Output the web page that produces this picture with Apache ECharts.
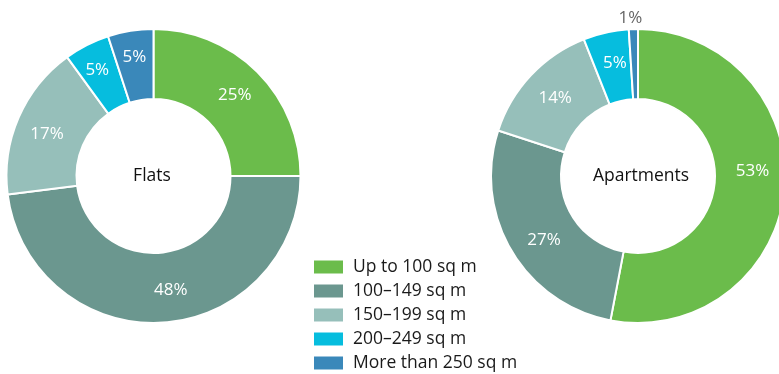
<!DOCTYPE html>
<html>
<head>
<meta charset="utf-8">
<script src="https://cdn.jsdelivr.net/npm/echarts@6/dist/echarts.min.js"></script>
<style>html,body{margin:0;padding:0;background:#fff}#c{width:779px;height:374px}</style>
</head>
<body>
<div id="c"></div>
<script>
const categories = ['Up to 100 sq m', '100–149 sq m', '150–199 sq m', '200–249 sq m', 'More than 250 sq m'];
const flatsValues = [25, 48, 17, 5, 5];
const apartmentsValues = [53, 27, 14, 5, 1];
const colors = ['#6BBC4B', '#6B978F', '#96BFBA', '#06BDDE', '#3A88BA'];
const FONT = '"Open Sans", "Noto Sans", sans-serif';

// label nudges (style only) to mimic the original's label placement
const flatsLabelOffsets = [[0, 0], [10, -1], [-1, 4], [-4, -3], [-1, -5]];
const aptLabelOffsets = [[0, -16], [5, 6], [1, 1], [2, -1], [9, -8]];

function makeData(values, offsets) {
  return categories.map((name, i) => {
    const d = { name, value: values[i], label: { offset: offsets[i] } };
    if (values[i] < 3) {
      d.label = { position: 'outside', color: '#666', distanceToLabelLine: 0, offset: offsets[i] };
      d.labelLine = { show: false, length: 3, length2: 0 };
    }
    return d;
  });
}

function pie(center, values, offsets) {
  return {
    type: 'pie',
    center: center,
    radius: [77, 147],
    startAngle: 90,
    clockwise: true,
    avoidLabelOverlap: false,
    itemStyle: { borderColor: '#fff', borderWidth: 2 },
    label: {
      show: true, position: 'inside', formatter: '{c}%',
      color: '#fff', fontSize: 17, fontFamily: FONT
    },
    labelLine: { show: false },
    emphasis: { disabled: true },
    data: makeData(values, offsets)
  };
}

const chart = echarts.init(document.getElementById('c'), null, { renderer: 'canvas' });
chart.setOption({
  animation: false,
  color: colors,
  title: [
    { text: 'Flats', left: 152, top: 176, textAlign: 'center', textVerticalAlign: 'middle', padding: 0,
      textStyle: { fontSize: 17.5, fontWeight: 'normal', color: '#111', fontFamily: FONT } },
    { text: 'Apartments', left: 641, top: 176, textAlign: 'center', textVerticalAlign: 'middle', padding: 0,
      textStyle: { fontSize: 17.5, fontWeight: 'normal', color: '#111', fontFamily: FONT } }
  ],
  legend: {
    orient: 'vertical', left: 307, top: 253, height: 130, width: 300,
    itemWidth: 31, itemHeight: 15, itemGap: 6,
    icon: 'rect',
    selectedMode: false,
    textStyle: { fontSize: 17.5, color: '#1a1a1a', fontFamily: FONT, lineHeight: 15, padding: [0, 0, 0, 4] },
    data: categories
  },
  series: [pie([153.5, 176], flatsValues, flatsLabelOffsets), pie([638, 176], apartmentsValues, aptLabelOffsets)]
});
</script>
</body>
</html>
